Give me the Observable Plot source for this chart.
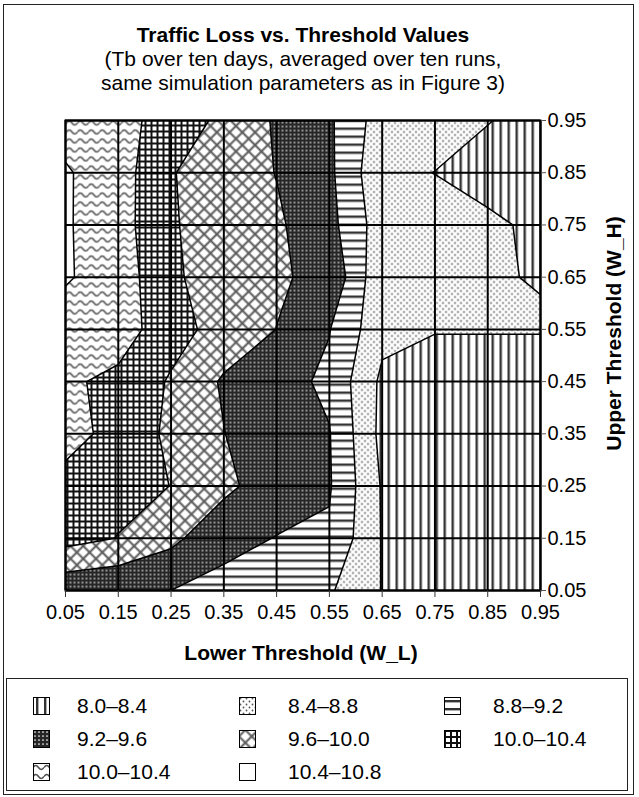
<!DOCTYPE html>
<html><head><meta charset="utf-8">
<script src="https://cdn.jsdelivr.net/npm/d3@7"></script>
<script src="https://cdn.jsdelivr.net/npm/@observablehq/plot@0.6"></script>
<style>
body{margin:0;background:#fff;font-family:"Liberation Sans",Arial,Helvetica,sans-serif;color:#000;}
#wrap{position:relative;width:639px;height:797px;overflow:hidden;background:#fff;}
#outer{position:absolute;left:3px;top:4px;width:631px;height:791px;border:1.5px solid #222;box-sizing:border-box;}
#title{position:absolute;left:0;top:23px;width:606px;text-align:center;font-size:21px;line-height:24px;}
#chart{position:absolute;left:0;top:100px;}
#legend{position:absolute;left:6px;top:678px;width:622px;height:113px;border:1px solid #222;box-sizing:border-box;}
.item{position:absolute;font-size:21px;line-height:24px;white-space:nowrap;}
.sw{position:absolute;}
</style></head>
<body>
<svg width="0" height="0" style="position:absolute">
<defs>
<pattern id="p0" patternUnits="userSpaceOnUse" width="8" height="8"><rect width="8" height="8" fill="#fff"/><rect x="3" width="2.4" height="8" fill="#333"/></pattern>
<pattern id="p1" patternUnits="userSpaceOnUse" width="6" height="6"><rect width="6" height="6" fill="#fff"/><circle cx="1.5" cy="1.5" r="0.9" fill="#555"/><circle cx="4.5" cy="4.5" r="0.9" fill="#555"/></pattern>
<pattern id="p2" patternUnits="userSpaceOnUse" width="8" height="8"><rect width="8" height="8" fill="#fff"/><rect y="3" width="8" height="2.4" fill="#333"/></pattern>
<pattern id="p3" patternUnits="userSpaceOnUse" width="4" height="4"><rect width="4" height="4" fill="#262626"/><circle cx="2" cy="2" r="0.85" fill="#fff"/></pattern>
<pattern id="p4" patternUnits="userSpaceOnUse" width="9" height="9" patternTransform="rotate(45)"><rect width="9" height="9" fill="#fff"/><path d="M0,4.5H9M4.5,0V9" stroke="#5a5a5a" stroke-width="2"/></pattern>
<pattern id="p5" patternUnits="userSpaceOnUse" width="6" height="6"><rect width="6" height="6" fill="#fff"/><path d="M0,1H6M1,0V6" stroke="#111" stroke-width="2"/></pattern>
<pattern id="p6" patternUnits="userSpaceOnUse" width="11" height="9"><rect width="11" height="9" fill="#fff"/><path d="M0,4.5Q2.75,0.5 5.5,4.5T11,4.5" fill="none" stroke="#555" stroke-width="1.6"/></pattern>
<pattern id="p7" patternUnits="userSpaceOnUse" width="4" height="4"><rect width="4" height="4" fill="#fff"/></pattern>
</defs>
</svg>
<div id="wrap">
  <div id="outer"></div>
  <div id="title">
    <div style="font-weight:bold">Traffic Loss vs. Threshold Values</div>
    <div>(Tb over ten days, averaged over ten runs,</div>
    <div>same simulation parameters as in Figure 3)</div>
  </div>
  <div id="chart"></div>
  <div id="legend"></div>
</div>
<script>
// Grid positions (Lower Threshold W_L on x, Upper Threshold W_H on y)
const xTicks = [0.05, 0.15, 0.25, 0.35, 0.45, 0.55, 0.65, 0.75, 0.85, 0.95];
const yTicks = [0.05, 0.15, 0.25, 0.35, 0.45, 0.55, 0.65, 0.75, 0.85, 0.95];

// Traffic loss values, one row per W_H value, columns W_L = 0.05 ... 0.95
const row095 = [10.65, 10.605, 10.15, 9.94, 9.55, 9.26, 8.60, 8.55, 8.42, 8.22];
const row085 = [10.838, 10.587, 10.02, 9.82, 9.588, 9.28, 8.48, 8.395, 8.2, 8.15];
const row075 = [10.84, 10.565, 10.05, 9.74, 9.66, 9.326, 8.585, 8.55, 8.5, 8.29];
const row065 = [10.841, 10.6, 10.1, 9.7, 9.633, 9.526, 8.474, 8.5, 8.415, 8.39];
const row055 = [10.6, 10.605, 10.15, 9.85, 9.597, 9.214, 8.512, 8.42, 8.42, 8.42];
const row045 = [10.467, 10.3, 9.959, 9.551, 9.355, 9.12, 8.32, 8.2, 8.2, 8.2];
const row035 = [10.68, 10.15, 9.955, 9.61, 9.277, 9.219, 8.29, 8.15, 8.15, 8.15];
const row025 = [10.14, 10.1, 9.996, 9.7, 9.367, 9.235, 8.365, 8.15, 8.15, 8.15];
const row015 = [10.14, 9.99, 9.7, 9.3, 9.189, 9.146, 8.377, 8.15, 8.15, 8.15];
const row005 = [9.31, 9.25, 9.199, 9.1, 8.95, 8.846, 8.386, 8.15, 8.15, 8.15];

// Contour band thresholds and legend labels (as printed)
const thresholds = [8.0, 8.4, 8.8, 9.2, 9.6, 10.0, 10.4, 10.8];
const legendLabels = ["8.0\u20138.4", "8.4\u20138.8", "8.8\u20139.2", "9.2\u20139.6", "9.6\u201310.0", "10.0\u201310.4", "10.0\u201310.4", "10.4\u201310.8"];
const patterns = ["url(#p0)", "url(#p1)", "url(#p2)", "url(#p3)", "url(#p4)", "url(#p5)", "url(#p6)", "url(#p7)"];

const grid = [row005, row015, row025, row035, row045, row055, row065, row075, row085, row095].flat();

const chart = Plot.plot({
  width: 639,
  height: 570,
  marginTop: 20,
  marginBottom: 80,
  marginLeft: 65,
  marginRight: 99,
  style: {fontFamily: "'Liberation Sans', Arial, sans-serif", fontSize: "20px", background: "transparent", color: "#000"},
  x: {domain: [0.05, 0.95]},
  y: {domain: [0.05, 0.95]},
  color: {type: "threshold", domain: thresholds.slice(1), range: patterns},
  marks: [
    Plot.contour(grid, {
      width: 10, height: 10, x1: 0, x2: 1, y1: 0, y2: 1,
      fill: Plot.identity, thresholds,
      stroke: "#000", strokeWidth: 1.5, clip: true
    }),
    Plot.ruleX(xTicks, {stroke: "#000", strokeWidth: 2}),
    Plot.ruleY(yTicks, {stroke: "#000", strokeWidth: 2}),
    Plot.frame({stroke: "#000", strokeWidth: 2}),
    Plot.axisX({ticks: xTicks, tickFormat: d3.format(".2f"), tickSize: 7, tickPadding: 7, stroke: "#333", label: null}),
    Plot.axisY({anchor: "right", ticks: yTicks, tickFormat: d3.format(".2f"), tickSize: 5, tickPadding: 2, stroke: "#555", label: null}),
    Plot.text(["Lower Threshold (W_L)"], {text: d => d, frameAnchor: "bottom", lineAnchor: "middle", textAnchor: "middle", dy: 63, dx: -2, fontWeight: "bold", fontSize: 21}),
    Plot.text(["Upper Threshold (W_H)"], {text: d => d, frameAnchor: "right", lineAnchor: "middle", textAnchor: "middle", rotate: -90, dx: 74, dy: -22, fontWeight: "bold", fontSize: 21})
  ]
});
document.getElementById("chart").appendChild(chart);

// Legend
const legend = document.getElementById("legend");
const colSw = [26, 232, 437];
const colTx = [70, 281, 486];
const rowY = [27, 60, 93];
legendLabels.forEach((lab, i) => {
  const c = i % 3, r = Math.floor(i / 3);
  const sw = document.createElementNS("http://www.w3.org/2000/svg", "svg");
  sw.setAttribute("width", 17); sw.setAttribute("height", 18);
  sw.setAttribute("class", "sw");
  sw.style.left = colSw[c] + "px";
  sw.style.top = (rowY[r] - 9) + "px";
  sw.innerHTML = `<rect x="0.5" y="0.5" width="16" height="17" fill="${patterns[i]}" stroke="#000" stroke-width="1"/>`;
  legend.appendChild(sw);
  const t = document.createElement("div");
  t.className = "item";
  t.textContent = lab;
  t.style.left = colTx[c] + "px";
  t.style.top = (rowY[r] - 12) + "px";
  legend.appendChild(t);
});
</script>
</body></html>
